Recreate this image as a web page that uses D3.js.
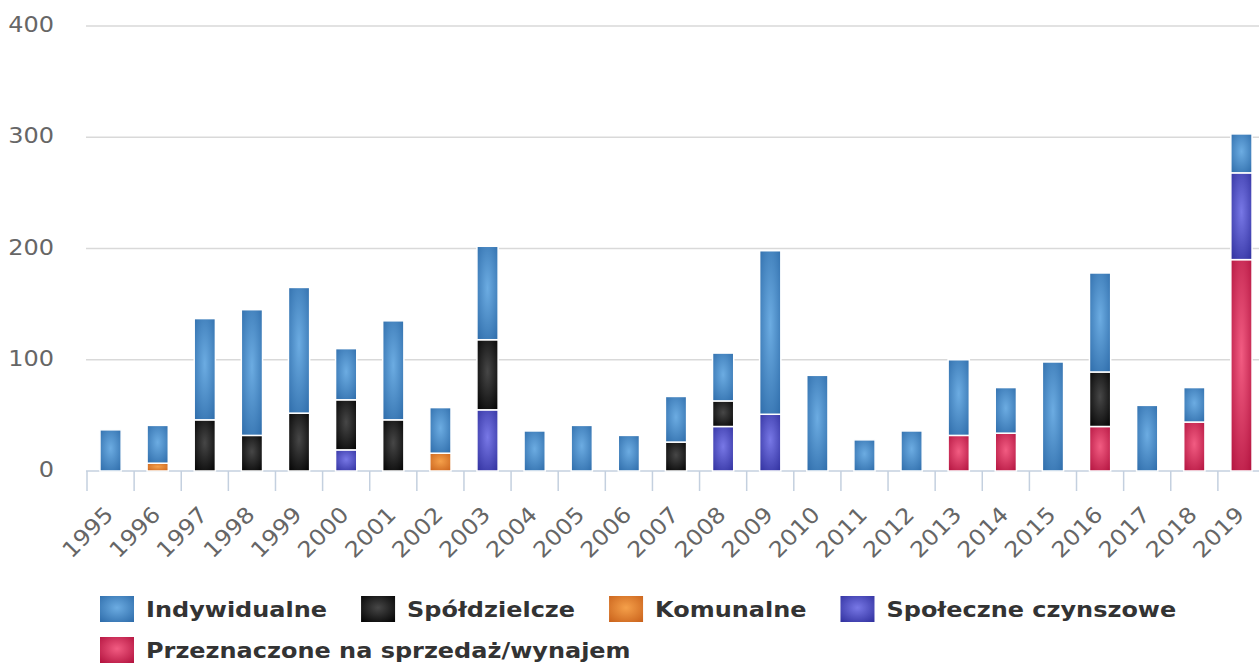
<!DOCTYPE html>
<html>
<head>
<meta charset="utf-8">
<script src="https://cdn.jsdelivr.net/npm/d3@7"></script>
<style>
  html, body { margin: 0; padding: 0; background: #fff; }
  svg { display: block; }
</style>
</head>
<body>
<svg id="chart"></svg>
<script>
// data
const years = ["1995","1996","1997","1998","1999","2000","2001","2002","2003","2004","2005","2006",
  "2007","2008","2009","2010","2011","2012","2013","2014","2015","2016","2017","2018","2019"];

const indywidualne  = [37, 34, 91, 113, 113, 46, 89, 41, 84, 36, 41, 32, 41, 43, 147, 86, 28, 36, 68, 41, 98, 89, 59, 31, 35];
const spoldzielcze  = [0, 0, 46, 32, 52, 45, 46, 0, 63, 0, 0, 0, 26, 23, 0, 0, 0, 0, 0, 0, 0, 49, 0, 0, 0];
const komunalne     = [0, 7, 0, 0, 0, 0, 0, 16, 0, 0, 0, 0, 0, 0, 0, 0, 0, 0, 0, 0, 0, 0, 0, 0, 0];
const spoleczne     = [0, 0, 0, 0, 0, 19, 0, 0, 55, 0, 0, 0, 0, 40, 51, 0, 0, 0, 0, 0, 0, 0, 0, 0, 78];
const przeznaczone  = [0, 0, 0, 0, 0, 0, 0, 0, 0, 0, 0, 0, 0, 0, 0, 0, 0, 0, 32, 34, 0, 40, 0, 44, 190];

const yTicks = [0, 100, 200, 300, 400];

// legend order; stacking goes the other way (last series at the bottom)
const seriesList = [
  { key: "ind", name: "Indywidualne", values: indywidualne, light: "#6cace2", dark: "#2c6aa8" },
  { key: "spo", name: "Spółdzielcze", values: spoldzielcze, light: "#474747", dark: "#000000" },
  { key: "kom", name: "Komunalne", values: komunalne, light: "#f5a04a", dark: "#c8601a" },
  { key: "spc", name: "Społeczne czynszowe", values: spoleczne, light: "#7878e6", dark: "#2e2e9c" },
  { key: "prz", name: "Przeznaczone na sprzedaż/wynajem", values: przeznaczone, light: "#f25c82", dark: "#b0103c" }
];

const width = 1259, height = 666;
const margin = { top: 26, right: -6, bottom: 195, left: 87 };
const stretch = 1.09; // the reference text is a bit wide

const svg = d3.select("#chart").attr("width", width).attr("height", height)
  .style("font-family", "'DejaVu Sans', sans-serif");

// build table for the stack
const table = years.map((y, i) => {
  const row = { year: y };
  seriesList.forEach(s => row[s.key] = s.values[i]);
  return row;
});

const stackKeys = seriesList.map(s => s.key).reverse();
const stacked = d3.stack().keys(stackKeys)(table);

const x = d3.scaleBand()
  .domain(years)
  .range([margin.left, width - margin.right])
  .paddingInner(0.55)
  .paddingOuter(0.275);

const y = d3.scaleLinear()
  .domain([0, 400])
  .range([height - margin.bottom, margin.top]);

// gradients
const defs = svg.append("defs");
seriesList.forEach(s => {
  const g = defs.append("radialGradient")
    .attr("id", "grad-" + s.key)
    .attr("cx", "50%").attr("cy", "45%").attr("r", "75%");
  g.append("stop").attr("offset", "0%").attr("stop-color", s.light);
  g.append("stop").attr("offset", "100%").attr("stop-color", s.dark);
});

// grid lines
svg.append("g")
  .selectAll("line")
  .data(yTicks.filter(t => t > 0))
  .join("line")
  .attr("x1", margin.left - 1)
  .attr("x2", width)
  .attr("y1", d => y(d))
  .attr("y2", d => y(d))
  .attr("stroke", "#d9d9d9")
  .attr("stroke-width", 1.5);

// y labels
svg.append("g")
  .selectAll("text")
  .data(yTicks)
  .join("text")
  .attr("transform", d => `translate(54, ${y(d) + 6}) scale(${stretch}, 1)`)
  .attr("text-anchor", "end")
  .attr("fill", "#666")
  .style("font-size", "22px")
  .text(d => d);

// x axis line and ticks between categories
const xAxis = svg.append("g");
xAxis.append("line")
  .attr("x1", margin.left - 1).attr("x2", width)
  .attr("y1", y(0)).attr("y2", y(0))
  .attr("stroke", "#c4d0df").attr("stroke-width", 1.5);

const step = x.step();
const tickPos = years.map(d => x(d) + x.bandwidth() / 2 - step / 2);
tickPos.push(tickPos[tickPos.length - 1] + step);
xAxis.selectAll("line.tick")
  .data(tickPos)
  .join("line")
  .attr("class", "tick")
  .attr("x1", d => d).attr("x2", d => d)
  .attr("y1", y(0)).attr("y2", y(0) + 20)
  .attr("stroke", "#c4d0df").attr("stroke-width", 1.5);

xAxis.selectAll("text")
  .data(years)
  .join("text")
  .attr("transform", d => `translate(${x(d) + x.bandwidth() / 2 + 4}, ${y(0) + 45}) rotate(-45) scale(${stretch}, 1)`)
  .attr("text-anchor", "end")
  .attr("fill", "#666")
  .style("font-size", "22px")
  .text(d => d);

// bars
const layers = svg.append("g")
  .selectAll("g")
  .data(stacked)
  .join("g")
  .attr("fill", d => `url(#grad-${d.key})`);

layers.selectAll("rect")
  .data(d => d.filter(p => p[1] - p[0] > 0))
  .join("rect")
  .attr("x", d => x(d.data.year))
  .attr("width", x.bandwidth())
  .attr("y", d => y(d[1]))
  .attr("height", d => y(d[0]) - y(d[1]))
  .attr("stroke", "#fff")
  .attr("stroke-width", 1.5);

// legend
const legend = svg.append("g").style("font-size", "22px").style("font-weight", "bold");
const rows = [seriesList.slice(0, 4), seriesList.slice(4)];
rows.forEach((row, ri) => {
  let cx = 100;
  const cy = 596 + ri * 41;
  row.forEach(s => {
    const item = legend.append("g").attr("transform", `translate(${cx}, ${cy})`);
    item.append("rect")
      .attr("width", 34).attr("height", 26)
      .attr("fill", `url(#grad-${s.key})`);
    const t = item.append("text")
      .attr("transform", `translate(46, 21) scale(${stretch}, 1)`)
      .attr("fill", "#333")
      .text(s.name);
    cx += 46 + t.node().getComputedTextLength() * stretch + 34;
  });
});
</script>
</body>
</html>
